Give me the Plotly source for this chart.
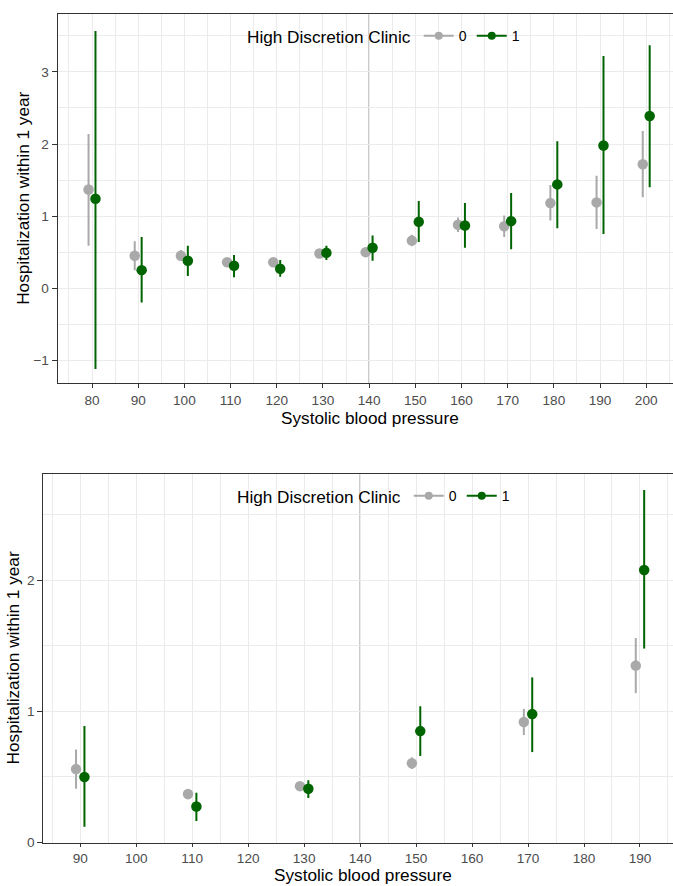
import numpy as np
import plotly.graph_objects as go

# ---------------- data ----------------
# Panel A (all blood pressure bins)
bp_a = [80, 90, 100, 110, 120, 130, 140, 150, 160, 170, 180, 190, 200]
est0_a = [1.37, 0.45, 0.45, 0.36, 0.36, 0.48, 0.50, 0.66, 0.88, 0.86, 1.18, 1.19, 1.72]
lo0_a = [0.59, 0.25, 0.38, 0.33, 0.33, 0.45, 0.47, 0.58, 0.78, 0.71, 0.94, 0.82, 1.26]
hi0_a = [2.14, 0.65, 0.53, 0.41, 0.39, 0.51, 0.53, 0.74, 0.98, 1.01, 1.43, 1.56, 2.18]
est1_a = [1.24, 0.25, 0.38, 0.31, 0.27, 0.49, 0.56, 0.92, 0.87, 0.93, 1.44, 1.98, 2.39]
lo1_a = [-1.12, -0.20, 0.17, 0.15, 0.16, 0.39, 0.38, 0.64, 0.56, 0.54, 0.83, 0.75, 1.40]
hi1_a = [3.57, 0.71, 0.59, 0.46, 0.39, 0.59, 0.73, 1.21, 1.18, 1.32, 2.04, 3.22, 3.37]

# Panel B (20-unit bins)
bp_b = [90, 110, 130, 150, 170, 190]
est0_b = [0.56, 0.37, 0.43, 0.605, 0.92, 1.35]
lo0_b = [0.41, 0.33, 0.41, 0.56, 0.82, 1.14]
hi0_b = [0.71, 0.40, 0.45, 0.65, 1.02, 1.56]
est1_b = [0.50, 0.275, 0.41, 0.85, 0.98, 2.08]
lo1_b = [0.12, 0.165, 0.34, 0.66, 0.69, 1.48]
hi1_b = [0.89, 0.38, 0.475, 1.04, 1.26, 2.69]

groups = ["0", "1"]
threshold = 140
x_title = "Systolic blood pressure"
y_title = "Hospitalization within 1 year"
legend_title = "High Discretion Clinic"

# ---------------- style ----------------
W, H = 673, 886
FONT = "Liberation Sans, Arial, Helvetica, sans-serif"
COL = {"0": "#A9A9A9", "1": "#006400"}
DODGE = 0.75
GRID = "#EBEBEB"
AXIS = "#333333"
TICKFONT = dict(family=FONT, size=13.6, color="#4D4D4D")
TITLESIZE = 17.2


def px_x(p):
    return p / W


def px_y(p):
    return 1 - p / H


fig = go.Figure()


def add_panel(bp, series, xa, ya, legend):
    for g, (est, lo, hi) in zip(groups, series):
        est = np.array(est)
        lo = np.array(lo)
        hi = np.array(hi)
        off = -DODGE if g == "0" else DODGE
        fig.add_trace(go.Scatter(
            x=np.array(bp) + off, y=est, mode="markers",
            marker=dict(color=COL[g], size=10.5),
            error_y=dict(type="data", symmetric=False, array=hi - est,
                         arrayminus=est - lo, color=COL[g], thickness=2, width=0),
            xaxis=xa, yaxis=ya, showlegend=False, hoverinfo="x+y",
        ))
    for g in groups:
        fig.add_trace(go.Scatter(
            x=[None], y=[None], mode="lines+markers", name=g,
            marker=dict(color=COL[g], size=8), line=dict(color=COL[g], width=2),
            xaxis=xa, yaxis=ya, legend=legend, showlegend=True,
        ))


add_panel(bp_a, [(est0_a, lo0_a, hi0_a), (est1_a, lo1_a, hi1_a)], "x", "y", "legend")
add_panel(bp_b, [(est0_b, lo0_b, hi0_b), (est1_b, lo1_b, hi1_b)], "x2", "y2", "legend2")


def xaxis_cfg(domain, rng, anchor, ticklen):
    return dict(
        domain=domain, range=rng, anchor=anchor,
        tickmode="linear", tick0=0, dtick=10,
        showgrid=True, gridcolor=GRID, gridwidth=1.1,
        minor=dict(dtick=5, tick0=0, showgrid=True, gridcolor=GRID, gridwidth=0.6),
        showline=True, linecolor=AXIS, linewidth=1.1, mirror=True,
        ticks="outside", ticklen=ticklen, tickcolor=AXIS, tickwidth=1.1,
        tickfont=TICKFONT, zeroline=False, automargin=False,
    )


def yaxis_cfg(domain, rng, anchor, vals):
    return dict(
        domain=domain, range=rng, anchor=anchor,
        tickmode="array", tickvals=vals,
        showgrid=True, gridcolor=GRID, gridwidth=1.1,
        minor=dict(dtick=0.5, tick0=0, showgrid=True, gridcolor=GRID, gridwidth=0.6),
        showline=True, linecolor=AXIS, linewidth=1.1, mirror=False,
        ticks="outside", ticklen=5, tickcolor=AXIS, tickwidth=1.1,
        tickfont=TICKFONT, zeroline=False, automargin=False,
    )


top = dict(l=57.7, t=14.3, b=383.3)
bot = dict(l=43.3, t=474.3, b=842.5)

fig.update_layout(
    width=W, height=H,
    margin=dict(l=0, r=0, t=0, b=0),
    paper_bgcolor="white", plot_bgcolor="white",
    font=dict(family=FONT, color="black"),
    xaxis=xaxis_cfg([px_x(top["l"]), 1], [72.57, 205.8], "y", 4),
    yaxis=yaxis_cfg([px_y(top["b"]), px_y(top["t"])], [-1.32, 3.80], "x", [-1, 0, 1, 2, 3]),
    xaxis2=xaxis_cfg([px_x(bot["l"]), 1], [83.4, 195.9], "y2", 3),
    yaxis2=yaxis_cfg([px_y(bot["b"]), px_y(bot["t"])], [0, 2.81], "x2", [0, 1, 2]),
    legend=dict(
        orientation="h", x=px_x(245), y=px_y(36.7), xanchor="left", yanchor="middle",
        bgcolor="rgba(0,0,0,0)", borderwidth=0,
        title=dict(text=legend_title, side="left", font=dict(family=FONT, size=TITLESIZE)),
        font=dict(family=FONT, size=14), itemclick=False,
    ),
    legend2=dict(
        orientation="h", x=px_x(235), y=px_y(496.7), xanchor="left", yanchor="middle",
        bgcolor="rgba(0,0,0,0)", borderwidth=0,
        title=dict(text=legend_title, side="left", font=dict(family=FONT, size=TITLESIZE)),
        font=dict(family=FONT, size=14), itemclick=False,
    ),
)

for xr in ["x", "x2"]:
    fig.add_shape(type="line", xref=xr, yref=("y" if xr == "x" else "y2") + " domain",
                  x0=threshold, x1=threshold, y0=0, y1=1,
                  line=dict(color="#BEBEBE", width=1.8), layer="below")

annots = [
    dict(text=x_title, x=px_x(370), y=px_y(418), yanchor="middle"),
    dict(text=x_title, x=px_x(363), y=0, yanchor="bottom"),
    dict(text=y_title, x=px_x(23), y=px_y((top["t"] + top["b"]) / 2), textangle=-90,
         yanchor="middle"),
    dict(text=y_title, x=px_x(13), y=px_y((bot["t"] + bot["b"]) / 2), textangle=-90,
         yanchor="middle"),
]
for a in annots:
    fig.add_annotation(xref="paper", yref="paper", showarrow=False, borderpad=0,
                       xanchor="center",
                       font=dict(family=FONT, size=TITLESIZE, color="black"), **a)

fig.write_html("out.html")
